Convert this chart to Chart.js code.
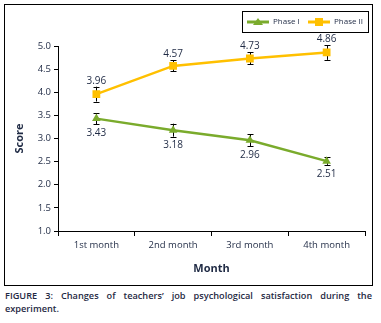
<!DOCTYPE html>
<html>
<head>
<meta charset="utf-8">
<script src="https://cdn.jsdelivr.net/npm/chart.js@4"></script>
<style>
  body { margin: 0; background: #fff; }
  #wrap { position: relative; width: 381px; height: 323px; }
  #box { position: absolute; left: 4px; top: 4px; width: 367px; height: 280px; border: 1px solid #000; }
  #caption {
    position: absolute; left: 5px; top: 289px; width: 367px;
    font-family: "Open Sans", sans-serif; font-size: 9.2px; font-weight: 600; line-height: 13px;
    color: #1f2a44; text-align: justify; text-align-last: left;
  }
</style>
</head>
<body>
<div id="wrap">
  <div id="box"><canvas id="chart" width="367" height="280"></canvas></div>
  <div id="caption">FIGURE 3: Changes of teachers’ job psychological satisfaction during the experiment.</div>
</div>
<script>
// data
const months = ["1st month", "2nd month", "3rd month", "4th month"];
const phase1 = [3.43, 3.18, 2.96, 2.51];
const phase2 = [3.96, 4.57, 4.73, 4.86];
const phase1Err = [0.12, 0.14, 0.13, 0.08];
const phase2Err = [0.16, 0.12, 0.13, 0.16];
const yTicks = [1.0, 1.5, 2.0, 2.5, 3.0, 3.5, 4.0, 4.5, 5.0];

const GREEN = "#7aab2c";
const YELLOW = "#ffc000";
const TEXT = "#1f2a44";
const FONT = "'Open Sans', sans-serif";

// error bars + value labels
const errorBars = {
    id: "errorBars",
    beforeDatasetsDraw(chart) {
        const ctx = chart.ctx;
        const y = chart.scales.y;
        ctx.save();
        ctx.strokeStyle = "#000";
        ctx.lineWidth = 1;
        chart.data.datasets.forEach((ds, i) => {
            const meta = chart.getDatasetMeta(i);
            meta.data.forEach((pt, j) => {
                const hi = y.getPixelForValue(ds.data[j] + ds.err[j]);
                const lo = y.getPixelForValue(ds.data[j] - ds.err[j]);
                const x = Math.round(pt.x) + 0.5;
                ctx.beginPath();
                ctx.moveTo(x, hi); ctx.lineTo(x, lo);
                ctx.moveTo(x - 3, Math.round(hi) + 0.5); ctx.lineTo(x + 3, Math.round(hi) + 0.5);
                ctx.moveTo(x - 3, Math.round(lo) + 0.5); ctx.lineTo(x + 3, Math.round(lo) + 0.5);
                ctx.stroke();
            });
        });
        ctx.restore();
    },
    afterDatasetsDraw(chart) {
        const ctx = chart.ctx;
        const y = chart.scales.y;
        ctx.save();
        ctx.font = "10px " + FONT;
        ctx.fillStyle = TEXT;
        ctx.textAlign = "center";
        chart.data.datasets.forEach((ds, i) => {
            const meta = chart.getDatasetMeta(i);
            meta.data.forEach((pt, j) => {
                const txt = ds.data[j].toFixed(2);
                if (ds.labelPos === "above") {
                    ctx.textBaseline = "bottom";
                    ctx.fillText(txt, pt.x, y.getPixelForValue(ds.data[j] + ds.err[j]) - 1);
                } else {
                    ctx.textBaseline = "top";
                    ctx.fillText(txt, pt.x, y.getPixelForValue(ds.data[j] - ds.err[j]) + 4);
                }
            });
        });
        ctx.restore();
    }
};

// boxed legend in the top right corner
const boxLegend = {
    id: "boxLegend",
    afterDraw(chart) {
        const ctx = chart.ctx;
        ctx.save();
        ctx.strokeStyle = "#000";
        ctx.lineWidth = 1;
        ctx.strokeRect(237.5, 6.5, 126, 21);
        ctx.font = "8px " + FONT;
        ctx.fillStyle = TEXT;
        ctx.textBaseline = "middle";
        const items = [
            { x: 242, ds: chart.data.datasets[0] },
            { x: 303, ds: chart.data.datasets[1] }
        ];
        items.forEach(it => {
            const cy = 17;
            ctx.strokeStyle = it.ds.borderColor;
            ctx.lineWidth = 3;
            ctx.beginPath();
            ctx.moveTo(it.x, cy); ctx.lineTo(it.x + 22, cy);
            ctx.stroke();
            ctx.fillStyle = it.ds.borderColor;
            const mx = it.x + 11;
            if (it.ds.pointStyle === "triangle") {
                ctx.beginPath();
                ctx.moveTo(mx, cy - 4); ctx.lineTo(mx + 5, cy + 3); ctx.lineTo(mx - 5, cy + 3);
                ctx.closePath(); ctx.fill();
            } else {
                ctx.fillRect(mx - 4, cy - 4, 8, 8);
            }
            ctx.fillStyle = TEXT;
            ctx.fillText(it.ds.label, it.x + 26, cy);
        });
        ctx.restore();
    }
};

new Chart(document.getElementById("chart"), {
    type: "line",
    data: {
        labels: months,
        datasets: [
            {
                label: "Phase I", data: phase1, err: phase1Err, labelPos: "below",
                borderColor: GREEN, backgroundColor: GREEN, borderWidth: 2.5,
                pointStyle: "triangle", pointRadius: 5, pointBorderWidth: 0
            },
            {
                label: "Phase II", data: phase2, err: phase2Err, labelPos: "above",
                borderColor: YELLOW, backgroundColor: YELLOW, borderWidth: 2.5,
                pointStyle: "rect", pointRadius: 5.5, pointBorderWidth: 0
            }
        ]
    },
    options: {
        responsive: false,
        animation: false,
        layout: { padding: { top: 41, right: 7, left: 0, bottom: 0 } },
        plugins: { legend: { display: false }, tooltip: { enabled: false } },
        scales: {
            x: {
                offset: true,
                afterFit: s => { s.height = 54; },
                border: { color: "#000", width: 1 },
                grid: { offset: true, drawOnChartArea: false, drawTicks: true, tickLength: 5, color: "#000" },
                ticks: { color: TEXT, font: { family: FONT, size: 9.5 }, padding: 4 },
                title: { display: true, text: "Month", color: TEXT, font: { family: FONT, size: 11, weight: "bold" }, padding: { top: 4, bottom: 10 } }
            },
            y: {
                min: 1, max: 5,
                afterFit: s => { s.width = 53; },
                afterBuildTicks: s => { s.ticks = yTicks.map(v => ({ value: v })); },
                border: { color: "#000", width: 1 },
                grid: { drawOnChartArea: false, drawTicks: true, tickLength: 4, color: "#000" },
                ticks: { color: TEXT, font: { family: FONT, size: 9.5 }, padding: 3, callback: v => v.toFixed(1) },
                title: { display: true, text: "Score", color: TEXT, font: { family: FONT, size: 11, weight: "bold" }, padding: { top: 8, bottom: 0 } }
            }
        }
    },
    plugins: [errorBars, boxLegend]
});
</script>
</body>
</html>
